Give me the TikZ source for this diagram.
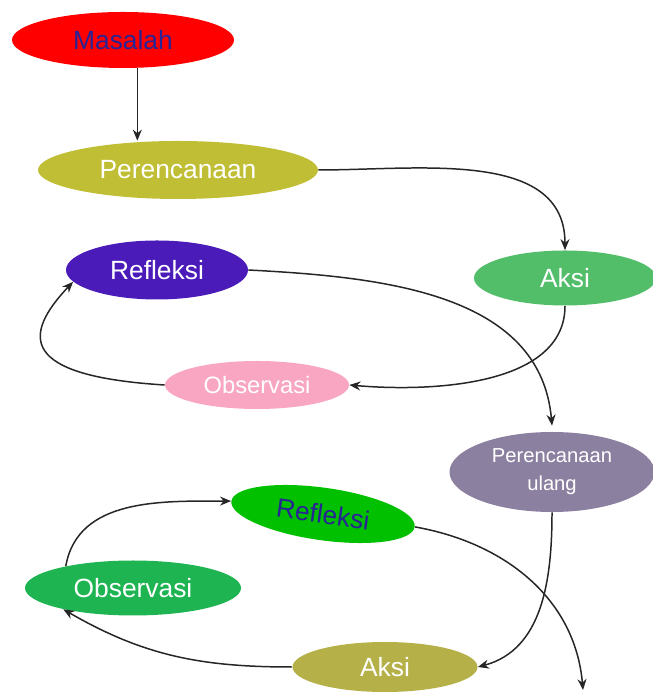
\documentclass[tikz,border=0pt]{standalone}
\usepackage{fontspec}
\setmainfont{Liberation Sans}
\usepackage{tikz}
\usetikzlibrary{arrows.meta, positioning, calc, shapes.geometric}
\definecolor{cred}{RGB}{255,0,0}
\definecolor{cnavy}{RGB}{40,36,150}
\definecolor{colive}{RGB}{192,190,52}
\definecolor{cpurple}{RGB}{75,27,186}
\definecolor{cgreen}{RGB}{82,190,106}
\definecolor{cpink}{RGB}{248,166,193}
\definecolor{cgrey}{RGB}{140,128,160}
\definecolor{cbright}{RGB}{0,192,0}
\definecolor{cdeep}{RGB}{30,180,82}
\definecolor{ckhaki}{RGB}{181,176,72}

\begin{document}
\begin{tikzpicture}[
    >={Stealth[length=2.2mm, width=1.8mm]},
    stage/.style={ellipse, draw=none, inner sep=0pt, text=white, font=\fontsize{15}{17}\selectfont, align=center},
    arr/.style={->, line width=0.85pt, black!85},
]
    \useasboundingbox (0,0) rectangle (13.04,13.84);

    % First cycle
    \node[stage, fill=cred, text=cnavy, minimum width=4.44cm, minimum height=1.12cm] (masalah) at (2.46, 13.04) {Masalah};
    \node[stage, fill=colive, minimum width=5.6cm, minimum height=1.16cm] (plan) at (3.56, 10.44) {Perencanaan};
    \node[stage, fill=cgreen, minimum width=3.64cm, minimum height=1.1cm] (aksi1) at (11.30, 8.28) {Aksi};
    \node[stage, fill=cpink, minimum width=3.68cm, minimum height=0.96cm, font=\fontsize{13.5}{15}\selectfont] (obs1) at (5.14, 6.14) {Observasi};
    \node[stage, fill=cpurple, minimum width=3.64cm, minimum height=1.18cm] (refl1) at (3.14, 8.44) {Refleksi};

    \draw[arr] (masalah.-63) -- (masalah.-63 |- plan.north);
    \draw[arr] (plan.east) to[out=0, in=90] (aksi1.north);
    \draw[arr] (aksi1.south) to[out=-90, in=-5, looseness=0.9] (obs1.east);
    \draw[arr] (obs1.west) .. controls +(-2.9,0.18) and +(-1.02,-1.08) .. (refl1.188);

    % Second cycle
    \node[stage, fill=cgrey, minimum width=4.1cm, minimum height=1.6cm, font=\fontsize{11.5}{16}\selectfont] (ulang) at (11.04, 4.40) {Perencanaan\\ulang};
    \node[stage, fill=ckhaki, minimum width=3.7cm, minimum height=1.0cm] (aksi2) at (7.70, 0.50) {Aksi};
    \node[stage, fill=cdeep, minimum width=4.32cm, minimum height=1.1cm] (obs2) at (2.66, 2.08) {Observasi};
    \node[stage, fill=cbright, text=cnavy, minimum width=3.7cm, minimum height=1.05cm, rotate=-8] (refl2) at (6.46, 3.56) {Refleksi};
    \coordinate (next) at (11.66, 0.04);

    \draw[arr] (refl1.east) to[out=-3, in=95] ($(ulang.north)+(0,0.12)$);
    \draw[arr] (ulang.south) to[out=-90, in=15] (aksi2.east);
    \draw[arr] (aksi2.west) to[out=180, in=-30] (obs2.197);
    \draw[arr] (obs2.162) to[out=80, in=180] (refl2.west);
    \draw[arr] (refl2.east) to[out=-10, in=95] (next);
\end{tikzpicture}
\end{document}
